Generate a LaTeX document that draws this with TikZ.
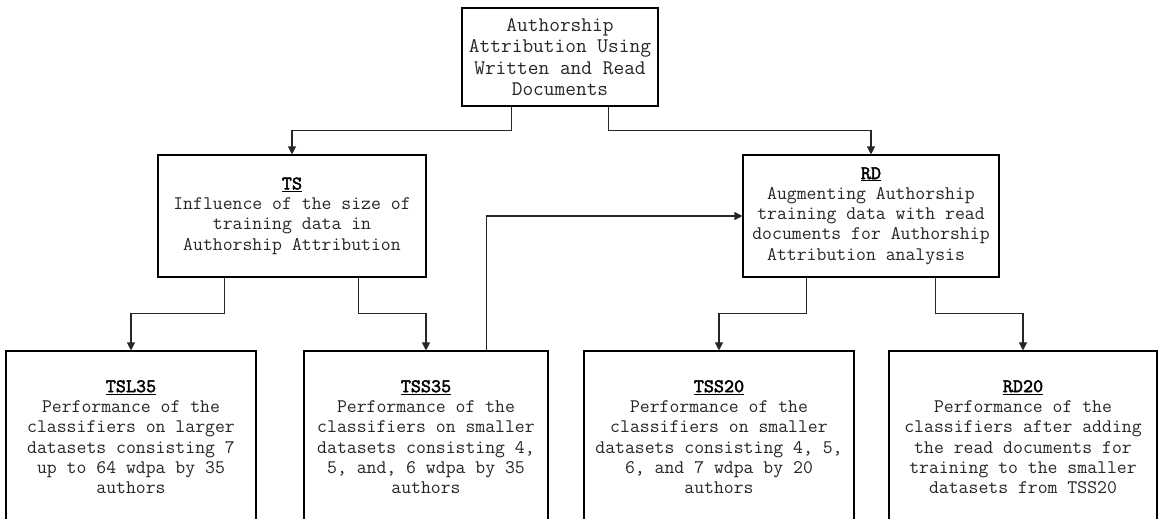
\documentclass[tikz,border=0pt]{standalone}
\usepackage{fontspec}
\usetikzlibrary{arrows.meta}
\newfontfamily\headfont{lmmono10-regular.otf}[FakeBold=2.2]
\newcommand\boxhead[1]{{\color{black}\headfont\underline{#1}}}
\begin{document}
\begin{tikzpicture}[x=1pt,y=-1pt,
  box/.style={draw=black, line width=1.1pt, fill=white, inner sep=0pt,
    align=center, text=black!85, font=\ttfamily\fontsize{19.2}{20.3}\selectfont},
  leaf/.style={box, minimum height=172pt},
  conn/.style={draw=black!85, line width=1.1pt,
    -{Triangle[length=8pt,width=8pt]}},
]
\clip (0,0) rectangle (1160,519);
\fill[white] (0,0) rectangle (1160,519);

% root
\node[box, minimum width=196pt, minimum height=98pt,
      font=\ttfamily\fontsize{20.8}{21.5}\selectfont] (root) at (560,57)
  {Authorship\\Attribution Using\\Written and Read\\Documents};

% second level
\node[box, minimum width=268pt, minimum height=122pt] (ts) at (292,216)
  {\boxhead{TS}\\Influence of the size of\\training data in\\Authorship Attribution};
\node[box, minimum width=256pt, minimum height=122pt] (rd) at (871,216)
  {\boxhead{RD}\\Augmenting Authorship\\training data with read\\documents for Authorship\\Attribution analysis\hphantom{x}};

% leaves
\node[leaf, minimum width=250pt] (tsl35) at (131,437)
  {\boxhead{TSL35}\\Performance of the\\classifiers on larger\\datasets consisting 7\\up to 64 wdpa by 35\\authors};
\node[leaf, minimum width=244pt] (tss35) at (426,437)
  {\boxhead{TSS35}\\Performance of the\\classifiers on smaller\\datasets consisting 4,\\5, and, 6 wdpa by 35\\authors};
\node[leaf, minimum width=270pt] (tss20) at (719,437)
  {\boxhead{TSS20}\\Performance of the\\classifiers on smaller\\datasets consisting 4, 5,\\6, and 7 wdpa by 20\\authors};
\node[leaf, minimum width=268pt] (rd20) at (1023,437)
  {\boxhead{RD20}\\Performance of the\\classifiers after adding\\the read documents for\\training to the smaller\\datasets from TSS20};

% connectors
\draw[conn] ([xshift=50pt]root.south west) -- ++(0,24) -| (ts.north);
\draw[conn] ([xshift=147pt]root.south west) -- ++(0,24) -| (rd.north);
\draw[conn] ([xshift=67pt]ts.south west) -- ++(0,36) -| (tsl35.north);
\draw[conn] ([xshift=201pt]ts.south west) -- ++(0,36) -| (tss35.north);
\draw[conn] ([xshift=64pt]rd.south west) -- ++(0,36) -| (tss20.north);
\draw[conn] ([xshift=193pt]rd.south west) -- ++(0,36) -| (rd20.north);
\draw[conn] ([xshift=183pt]tss35.north west) |- (rd.west);
\end{tikzpicture}
\end{document}
